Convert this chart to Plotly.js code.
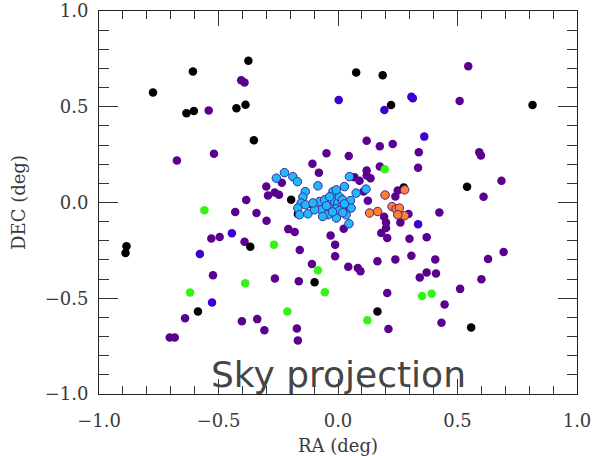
<!DOCTYPE html>
<html>
<head>
<meta charset="utf-8">
<script src="https://cdn.plot.ly/plotly-3.0.1.min.js"></script>
<style>html,body{margin:0;padding:0;background:#fff;}#chart{width:593px;height:456px;}</style>
</head>
<body>
<div id="chart"></div>
<script>
// Sky positions (RA, DEC in deg), grouped by colour
const purpleRA  = [-0.541,-0.405,-0.391,-0.674,-0.519,-0.300,-0.293,-0.265,-0.247,-0.235,-0.384,-0.430,-0.341,-0.299,-0.208,-0.181,-0.530,-0.495,-0.391,-0.160,-0.523,-0.264,-0.164,-0.640,-0.402,-0.338,-0.308,-0.704,-0.683,-0.172,-0.168,-0.031,0.024,-0.012,0.193,0.201,0.201,0.181,0.206,0.261,0.299,0.371,-0.012,-0.109,0.043,0.083,0.094,0.165,0.240,0.307,0.407,0.628,0.693,0.342,0.371,0.410,0.600,0.511,0.206,0.446,0.211,0.433,0.545,0.509,0.120,0.175,0.229,-0.048,0.045,0.338,0.591,0.598,-0.107,-0.080,0.175,0.335,0.120,0.120,0.136,0.090,0.684,0.609,0.107,0.125,0.250,0.240,0.295,0.424,0.069,0.048,-0.109];
const purpleDEC = [0.481,0.639,0.627,0.219,0.255,0.083,0.036,0.052,0.040,0.103,0.013,-0.050,-0.055,-0.095,-0.139,-0.154,-0.188,-0.180,-0.205,-0.248,-0.380,-0.397,-0.411,-0.604,-0.620,-0.609,-0.667,-0.705,-0.705,-0.658,-0.720,-0.172,-0.137,-0.220,-0.075,-0.105,-0.133,-0.159,-0.185,-0.104,-0.189,-0.182,-0.281,-0.321,-0.335,-0.342,-0.359,-0.307,-0.297,-0.278,-0.297,-0.295,-0.258,-0.391,-0.365,-0.371,-0.401,-0.451,-0.472,-0.533,-0.661,-0.628,0.712,0.530,0.323,0.294,0.306,0.257,0.243,0.263,0.263,0.245,0.202,0.156,0.188,0.181,0.167,0.141,0.127,0.113,0.113,0.030,0.057,0.009,0.063,0.031,-0.060,-0.052,0.132,-0.029,-0.012];

const blackRA  = [-0.774,-0.607,-0.375,-0.634,-0.603,-0.425,-0.387,-0.352,-0.196,-0.168,-0.885,-0.889,-0.367,-0.586,-0.098,0.165,0.557,0.076,0.187,0.222,0.814,0.540,0.275];
const blackDEC = [0.575,0.684,0.740,0.466,0.478,0.492,0.510,0.325,0.014,-0.060,-0.229,-0.264,-0.231,-0.569,-0.417,-0.569,-0.653,0.679,0.665,0.509,0.509,0.082,0.078];

const violetRA  = [-0.444,-0.578,-0.527,0.003,0.194,0.307,0.313,0.361,0.335];
const violetDEC = [-0.161,-0.269,-0.522,0.535,0.483,0.552,0.544,0.344,-0.113];

const greenRA  = [-0.559,-0.268,-0.388,-0.619,-0.212,-0.084,-0.055,0.123,0.352,0.392,0.196];
const greenDEC = [-0.040,-0.220,-0.422,-0.470,-0.569,-0.354,-0.469,-0.615,-0.488,-0.477,0.174];

const orangeRA  = [0.279,0.197,0.132,0.166,0.226,0.243,0.257,0.278,0.250];
const orangeDEC = [0.066,0.039,-0.055,-0.047,-0.021,-0.034,-0.029,-0.069,-0.064];

const cyanRA  = [-0.258,-0.224,-0.189,-0.170,-0.084,-0.137,-0.147,-0.154,-0.136,-0.168,-0.161,-0.126,0.048,0.027,0.076,0.117,-0.021,0.052,0.055,0.034,0.046,-0.007,-0.042,-0.070,-0.098,-0.077,-0.105,-0.028,-0.014,-0.001,0.013,-0.007,-0.056,-0.035,0.006,0.019,0.027,0.006,-0.023,-0.048,-0.064,-0.007,0.020];
const cyanDEC = [0.127,0.156,0.135,0.109,0.087,0.057,0.028,-0.003,-0.012,-0.029,-0.064,-0.059,0.135,0.083,0.049,0.070,0.057,0.010,-0.029,-0.064,-0.111,-0.081,-0.064,-0.038,-0.038,0.005,-0.002,-0.021,0.005,-0.003,-0.021,-0.033,0.014,0.030,0.030,0.014,-0.007,-0.043,-0.049,-0.017,-0.073,0.066,-0.053];

const xTitle = 'RA (deg)';
const yTitle = 'DEC (deg)';
const chartLabel = 'Sky projection';

function grp(x, y, color, outline) {
  return {
    type: 'scatter', mode: 'markers', x: x, y: y, hoverinfo: 'skip',
    marker: outline
      ? {size: 8.5, color: color, line: {width: 1, color: outline}}
      : {size: 8.5, color: color, line: {width: 0}}
  };
}

const data = [
  grp(purpleRA, purpleDEC, '#5a008e'),
  grp(blackRA, blackDEC, '#000000'),
  grp(violetRA, violetDEC, '#3c00d0'),
  grp(greenRA, greenDEC, '#33f414'),
  grp(orangeRA, orangeDEC, '#ff8228', '#5a1a90'),
  grp(cyanRA, cyanDEC, '#22b8f8', '#3a2aa0')
];

const tickFont = {family: 'DejaVu Serif, serif', size: 18, color: '#3a3a3a'};
const titleFont = {family: 'DejaVu Serif, serif', size: 18, color: '#3a3a3a'};

const axisCommon = {
  range: [-1, 1], dtick: 0.5, tick0: 0, tickformat: '.1f',
  showgrid: false, zeroline: false,
  showline: true, linecolor: '#222', linewidth: 1,
  mirror: 'ticks', ticks: 'inside', tickcolor: '#333', tickwidth: 1,
  tickfont: tickFont, fixedrange: true
};

const layout = {
  width: 593, height: 456,
  margin: {l: 99, r: 16, t: 11, b: 62, pad: 0},
  paper_bgcolor: '#fff', plot_bgcolor: '#fff',
  showlegend: false,
  xaxis: Object.assign({}, axisCommon, {
    ticklen: 15, ticklabelstandoff: 10,
    minor: {dtick: 0.1, ticklen: 8, ticks: 'inside', tickcolor: '#333', tickwidth: 1},
    title: {text: xTitle, font: titleFont, standoff: 12}
  }),
  yaxis: Object.assign({}, axisCommon, {
    ticklen: 19, ticklabelstandoff: 6,
    minor: {dtick: 0.1, ticklen: 10, ticks: 'inside', tickcolor: '#333', tickwidth: 1},
    title: {text: yTitle, font: titleFont, standoff: 14}
  }),
  annotations: [{
    text: chartLabel, xref: 'x', yref: 'y', x: 0, y: -0.9,
    xanchor: 'center', yanchor: 'middle', showarrow: false,
    font: {family: 'DejaVu Sans, sans-serif', size: 36, color: '#454545'}
  }]
};

Plotly.newPlot('chart', data, layout, {displayModeBar: false, staticPlot: true});
</script>
</body>
</html>
